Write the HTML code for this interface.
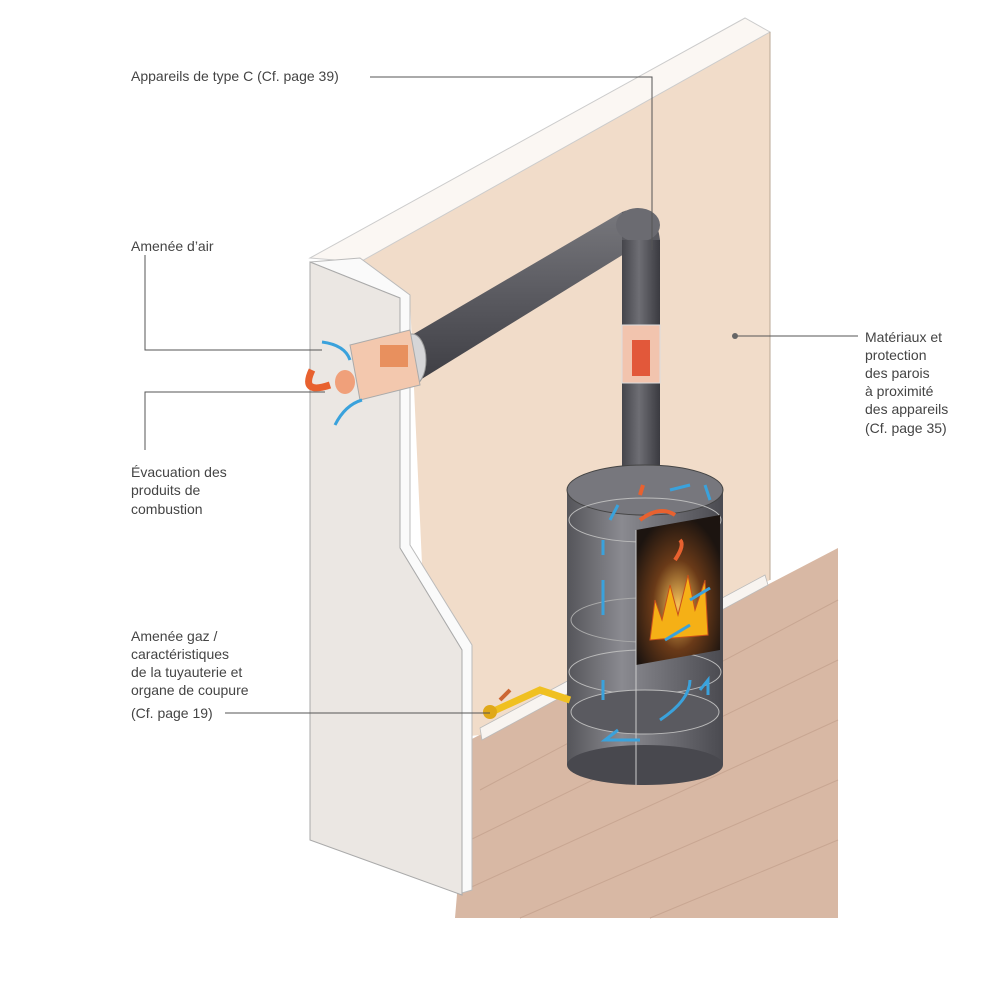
<!DOCTYPE html>
<html><head><meta charset="utf-8"><style>
html,body{margin:0;padding:0;background:#fff;width:985px;height:999px;overflow:hidden}
svg text{font-family:"Liberation Sans",sans-serif;font-size:14px;fill:#444}
</style></head><body>
<svg width="985" height="999" viewBox="0 0 985 999" xmlns="http://www.w3.org/2000/svg">
<defs>
<linearGradient id="pipeH" x1="0" y1="0" x2="0" y2="1"><stop offset="0" stop-color="#77777c"/><stop offset=".5" stop-color="#5a5a60"/><stop offset="1" stop-color="#3e3e44"/></linearGradient>
<linearGradient id="pipeV" x1="0" y1="0" x2="1" y2="0"><stop offset="0" stop-color="#45454b"/><stop offset=".45" stop-color="#6e6e74"/><stop offset="1" stop-color="#3a3a40"/></linearGradient>
<linearGradient id="stove" x1="0" y1="0" x2="1" y2="0"><stop offset="0" stop-color="#55555a"/><stop offset=".35" stop-color="#8a8a90"/><stop offset="1" stop-color="#4a4a50"/></linearGradient>
<radialGradient id="fire" cx=".5" cy=".6" r=".6"><stop offset="0" stop-color="#f6c25a"/><stop offset=".5" stop-color="#6a3a18"/><stop offset="1" stop-color="#1c1410"/></radialGradient>
</defs>
<polygon points="470,740 838,548 838,918 455,918" fill="#d8b8a4"/>
<g stroke="#c8a692" stroke-width="1">
<line x1="480" y1="790" x2="838" y2="600"/><line x1="470" y1="840" x2="838" y2="660"/><line x1="465" y1="890" x2="838" y2="720"/><line x1="520" y1="918" x2="838" y2="780"/><line x1="650" y1="918" x2="838" y2="840"/>
</g>
<polygon points="360,262 745,22 770,32 770,580 480,735 430,740 410,300" fill="#f1dcc9"/>
<polygon points="310,258 745,18 770,32 360,262" fill="#fbf7f3" stroke="#ccc" stroke-width="1"/>
<line x1="770" y1="32" x2="770" y2="580" stroke="#b9a795"/>
<polygon points="480,728 765,575 768,585 482,740" fill="#f8f4f0" stroke="#bbb" stroke-width=".8"/>
<polygon points="360,258 410,295 410,545 472,645 472,890 462,893 462,650 400,548 400,298 310,262" fill="#fafafa" stroke="#bbb" stroke-width="1"/>
<polygon points="310,262 400,298 400,548 462,650 462,895 310,840" fill="#ebe7e3" stroke="#aaa" stroke-width="1"/>
<polygon points="400,342 622,212 650,238 420,380" fill="url(#pipeH)"/>
<path d="M622,212 Q655,200 660,240 L660,290 L622,290 L622,245 Z" fill="#5a5a60"/>
<ellipse cx="638" cy="225" rx="22" ry="17" fill="#6b6b71"/>
<circle cx="652" cy="250" r="3" fill="#333"/>
<rect x="622" y="240" width="38" height="250" fill="url(#pipeV)"/>
<rect x="622" y="325" width="38" height="58" fill="#f2c4ae" stroke="#ddd"/>
<rect x="632" y="340" width="18" height="36" fill="#e2583a"/>
<ellipse cx="412" cy="360" rx="14" ry="26" fill="#d6d6d8" stroke="#999"/>
<polygon points="350,345 410,330 420,385 360,400" fill="#f3c8ae" stroke="#aaa"/>
<ellipse cx="345" cy="382" rx="10" ry="12" fill="#f0a07a"/>
<rect x="380" y="345" width="28" height="22" fill="#e8905e"/>
<path d="M330,385 Q300,395 312,370" stroke="#e8612f" stroke-width="7" fill="none"/>
<path d="M322,342 Q345,345 350,360 M335,425 Q345,405 362,400" stroke="#3aa2dc" stroke-width="3" fill="none"/>
<rect x="567" y="490" width="156" height="275" fill="url(#stove)"/>
<ellipse cx="645" cy="765" rx="78" ry="20" fill="#48484e"/>
<ellipse cx="645" cy="490" rx="78" ry="25" fill="#77777d" stroke="#444"/>
<ellipse cx="645" cy="520" rx="76" ry="22" fill="none" stroke="#bbb"/>
<ellipse cx="645" cy="672" rx="76" ry="22" fill="none" stroke="#bbb"/>
<ellipse cx="645" cy="712" rx="74" ry="22" fill="#5a5a60" stroke="#bbb"/>
<ellipse cx="645" cy="620" rx="74" ry="22" fill="none" stroke="#aaa"/>
<path d="M636,530 L720,515 L720,650 L636,665 Z" fill="url(#fire)"/>
<path d="M650,640 L655,600 L662,620 L670,585 L678,615 L688,575 L695,610 L705,580 L708,635 Z" fill="#f5b016" stroke="#c8501a"/>
<line x1="636" y1="530" x2="636" y2="785" stroke="#ccc"/>
<g stroke="#3aa2dc" stroke-width="3" fill="none">
<path d="M603,540 L603,555"/><path d="M603,580 L603,615"/><path d="M603,680 L603,700"/><path d="M618,730 L605,740 L640,740"/><path d="M660,720 Q690,700 690,680"/><path d="M700,690 L708,680 L708,695"/><path d="M670,490 L690,485"/><path d="M705,485 L710,500"/><path d="M610,520 L618,505"/><path d="M665,640 L690,625"/><path d="M690,600 L710,588"/>
</g>
<g stroke="#e8612f" stroke-width="4" fill="none"><path d="M640,520 Q660,505 675,515"/><path d="M675,560 Q685,545 680,540"/><path d="M640,495 L643,485"/></g>
<path d="M485,715 L540,690 L570,700" stroke="#f0c020" stroke-width="7" fill="none"/>
<circle cx="490" cy="712" r="7" fill="#e0a818"/>
<line x1="500" y1="700" x2="510" y2="690" stroke="#c63" stroke-width="4"/>
<g stroke="#555" stroke-width="1" fill="none">
<polyline points="370,77 652,77 652,250"/>
<polyline points="145,255 145,350 322,350"/>
<polyline points="145,450 145,392 325,392"/>
<polyline points="225,713 490,713"/>
<polyline points="735,336 858,336"/>
</g>
<circle cx="735" cy="336" r="3" fill="#666"/>
<text x="131" y="81">Appareils de type C (Cf. page 39)</text>
<text x="131" y="251">Amenée d’air</text>
<text x="131" y="477">Évacuation des</text>
<text x="131" y="495">produits de</text>
<text x="131" y="514">combustion</text>
<text x="131" y="641">Amenée gaz /</text>
<text x="131" y="659">caractéristiques</text>
<text x="131" y="677">de la tuyauterie et</text>
<text x="131" y="695">organe de coupure</text>
<text x="131" y="718">(Cf. page 19)</text>
<text x="865" y="342">Matériaux et</text>
<text x="865" y="360">protection</text>
<text x="865" y="378">des parois</text>
<text x="865" y="396">à proximité</text>
<text x="865" y="414">des appareils</text>
<text x="865" y="433">(Cf. page 35)</text>
</svg>
</body></html>
